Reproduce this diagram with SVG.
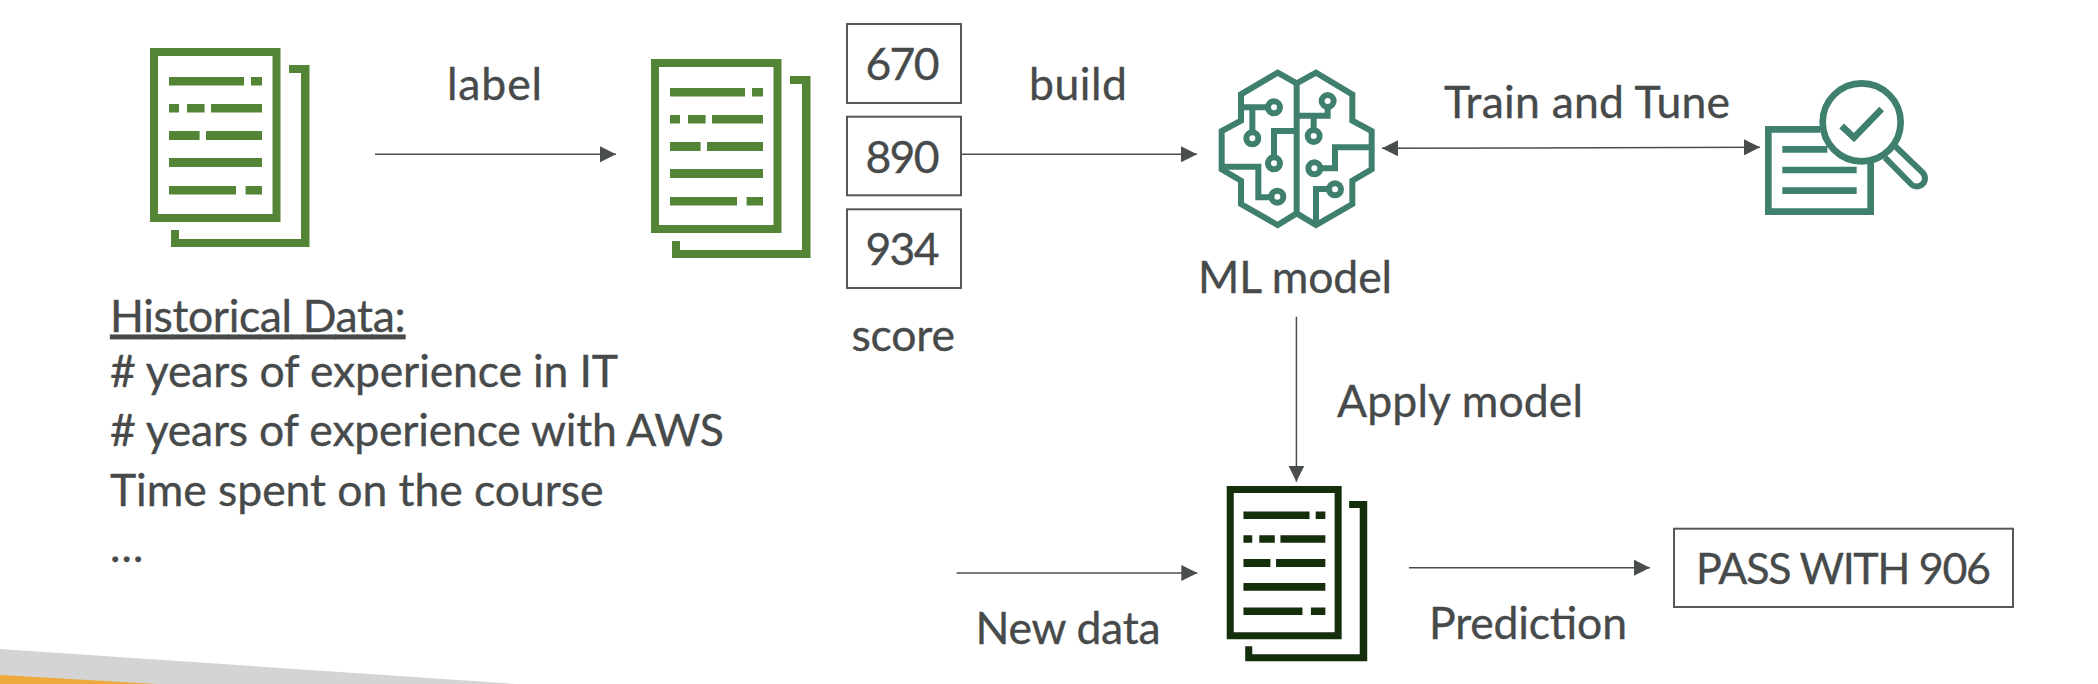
<svg xmlns="http://www.w3.org/2000/svg" width="2098" height="684" viewBox="0 0 2098 684">
<style>
text{font-family:"Lato","Open Sans",sans-serif;font-size:44.500px;fill:#474a4b;stroke:#474a4b;stroke-width:.35}
.c{stroke:#4a4d4e;stroke-width:1.500;fill:none}
.box{fill:#fff;stroke:#55585a;stroke-width:2}
.teal{fill:none;stroke:#3f7f6d;stroke-width:20}
.brain{fill:none;stroke:#3f7f6d;stroke-width:18;stroke-linejoin:miter}
</style>
<defs>
<marker id="a" markerUnits="userSpaceOnUse" markerWidth="16" markerHeight="16" refX="16" refY="8" orient="auto-start-reverse"><path d="M0 0L16 8L0 16Z" fill="#4a4d4e"/></marker>
<symbol id="doc" overflow="visible">
<path fill-rule="evenodd" d="M0 0H130.500V174H0ZM8 8V166H122.500V8Z"/>
<path d="M139 17H159.500V199H21V182H29V191H151V25H139Z"/>
<path d="M19 29H94V37.500H19ZM101 29H112V37.500H101ZM19 56H29V64.500H19ZM37 56H54.600V64.500H37ZM61 56H112V64.500H61ZM19 83H49.600V92H19ZM56 83H112V92H56ZM19 110H112V119H19ZM19 138H86V146.500H19ZM95.600 138H112V146.500H95.600Z"/>
</symbol>
</defs>
<path d="M0 649L516 684H0Z" fill="#d4d4d4"/>
<path d="M0 675L157 684H0Z" fill="#eda93a"/>
<g id="connectors">
<path class="c" d="M375 154.300H616" marker-end="url(#a)"/>
<path class="c" d="M956.700 154.300H1197" marker-end="url(#a)"/>
<path class="c" d="M1382 148.300L1760 147.300" marker-start="url(#a)" marker-end="url(#a)"/>
<path class="c" d="M1296.400 316.700V481.700" marker-end="url(#a)"/>
<path class="c" d="M956.700 573H1197.300" marker-end="url(#a)"/>
<path class="c" d="M1409 567.700H1650" marker-end="url(#a)"/>
</g>
<g id="doc1"><use href="#doc" x="150" y="48" fill="#548537"/></g>
<g id="doc2"><use href="#doc" x="651" y="59" fill="#548537"/></g>
<g id="doc3"><use href="#doc" transform="translate(1226.700 486) scale(.881)" fill="#152e0c"/></g>
<g id="historical"><text x="110" y="331.700" text-decoration="underline" textLength="295.500">Historical Data:</text><text x="110" y="387.300" textLength="508"># years of experience in IT</text><text x="110" y="446" textLength="614"># years of experience with AWS</text><text x="110" y="505.700" textLength="493.500">Time spent on the course</text><text x="110" y="561.700">…</text></g>
<g id="label"><text x="447" y="100" textLength="95">label</text></g>
<g id="s670"><rect class="box" x="847" y="24" width="114" height="79"/><text x="865.500" y="80" textLength="74">670</text></g>
<g id="s890"><rect class="box" x="847" y="116.700" width="114" height="78.600"/><text x="865.500" y="172.700" textLength="74">890</text></g>
<g id="s934"><rect class="box" x="847" y="209.300" width="114" height="78.700"/><text x="865.500" y="265" textLength="74">934</text></g>
<g id="score"><text x="851.500" y="350.700" textLength="103.500">score</text></g>
<g id="build"><text x="1029" y="100" textLength="98">build</text></g>
<g id="brain"><g class="brain" transform="translate(1190 50) scale(.33333)">
<path d="M263 68L320 100L378 68L487 133V212L545 243V358L487 392V462L378 525L320 490L263 525L153 462V392L95 358V243L153 212V133Z"/>
<path d="M320 100V490M153 172H234M187 172V247M252 322V243H320M95 350H205V442H244M413 171V197H320M371 197V240M545 292H435V355H391M378 525V417H417"/>
<circle cx="252" cy="172" r="18"/><circle cx="187" cy="265" r="18"/><circle cx="252" cy="340" r="18"/><circle cx="262" cy="440" r="18"/><circle cx="413" cy="153" r="18"/><circle cx="371" cy="258" r="18"/><circle cx="373" cy="355" r="18"/><circle cx="435" cy="418" r="18"/>
</g></g>
<g id="mlmodel"><text x="1198" y="293.300" textLength="194">ML model</text></g>
<g id="train"><text x="1444" y="117.700" textLength="286">Train and Tune</text></g>
<g id="evaluate"><g class="teal" transform="translate(1740 60) scale(.33333)">
<path d="M240 208H85V455H392V305"/>
<path d="M127 268H262M127 330H350M127 392H350"/>
<circle cx="365" cy="187" r="117"/>
<path d="M305 198L342 233L425 147"/>
<path stroke-width="18" d="M435 293L513 372A24 24 0 0 0 548 338L465 258"/>
</g></g>
<g id="apply"><text x="1337" y="416.700" textLength="246">Apply model</text></g>
<g id="newdata"><text x="975.500" y="643.500" textLength="185">New data</text></g>
<g id="prediction"><text x="1429" y="639" textLength="198">Prediction</text></g>
<g id="pass"><rect class="box" x="1674" y="528.700" width="339" height="78.300"/><text x="1696" y="584.300" textLength="295" font-size="43" style="font-size:43px">PASS WITH 906</text></g>
</svg>
